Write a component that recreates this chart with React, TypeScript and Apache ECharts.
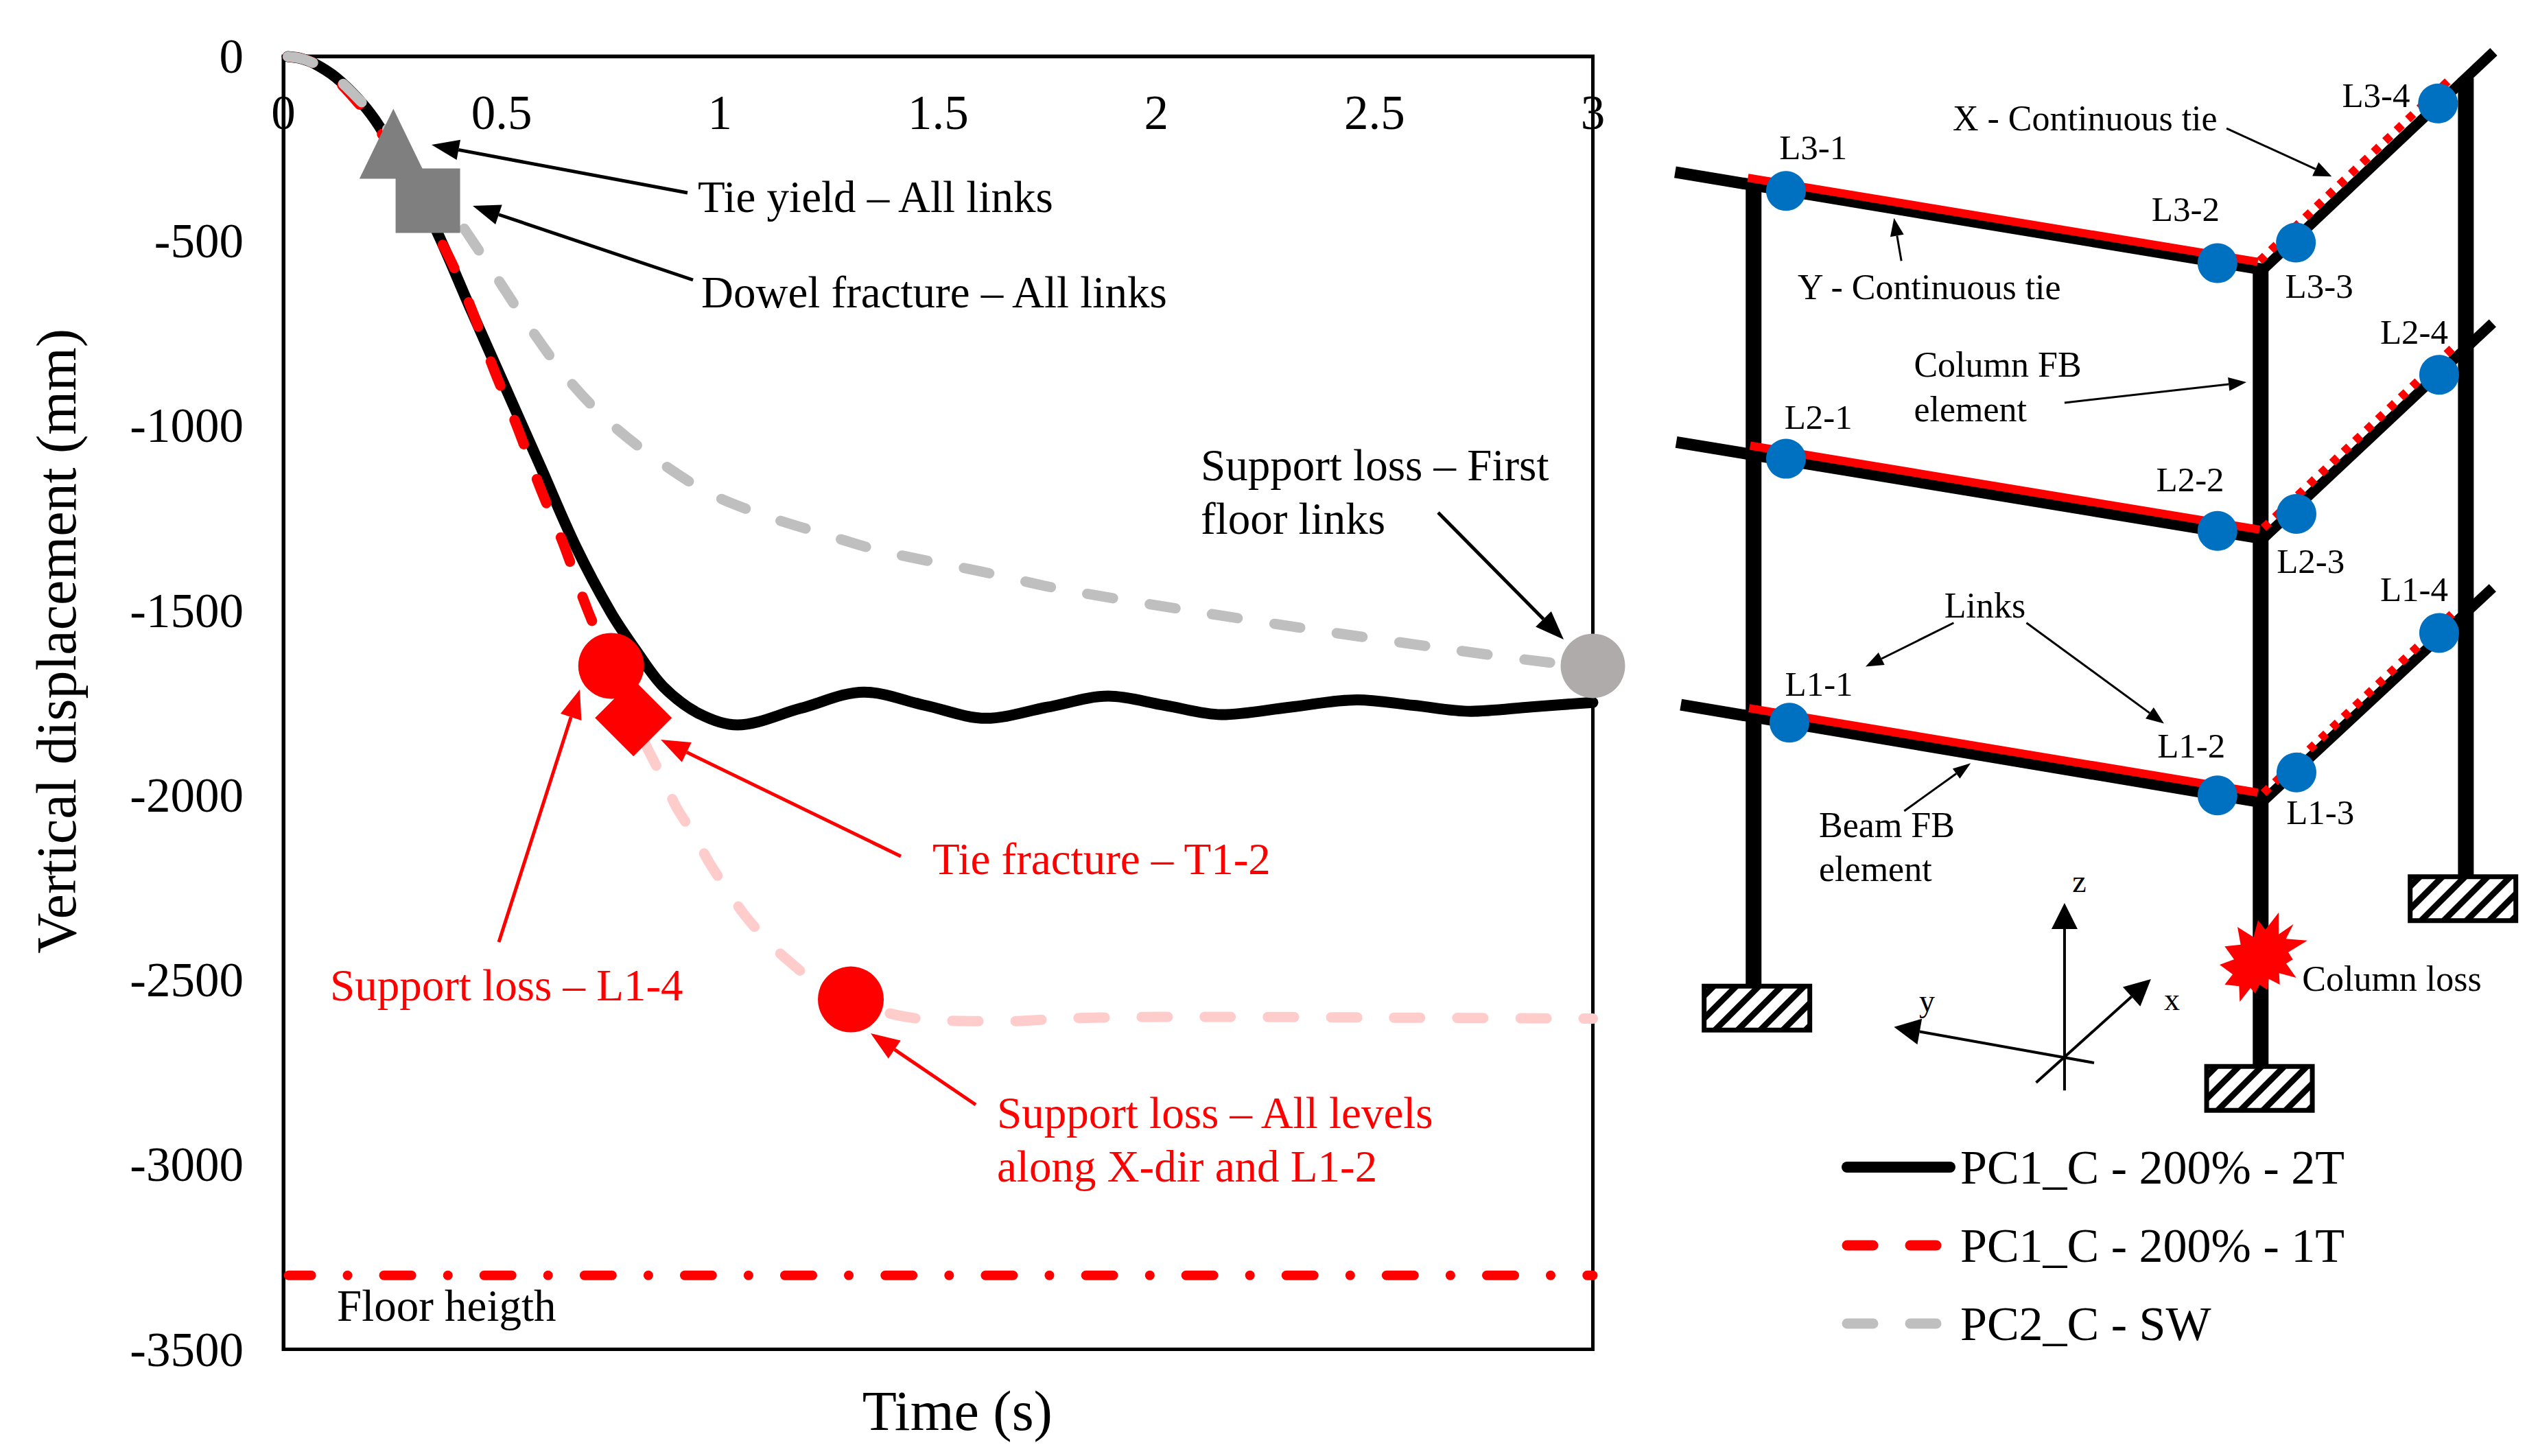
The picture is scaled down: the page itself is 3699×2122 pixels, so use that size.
import React, { useEffect, useRef } from "react";
import * as echarts from "echarts";

// ---- data ----
const xTickStep = 0.5;
const yTickStep = 500;

const blackName = "PC1_C - 200% - 2T";
const blackT = [0.01, 0.04, 0.07, 0.12, 0.18, 0.22, 0.28, 0.35, 0.43, 0.51, 0.59, 0.67, 0.75, 0.81, 0.87, 0.95, 1.04, 1.185, 1.33, 1.47, 1.61, 1.75, 1.89, 2.02, 2.15, 2.305, 2.46, 2.59, 2.72, 2.86, 3];
const blackV = [-1, -6, -19, -57, -127, -190, -310, -470, -687, -900, -1113, -1327, -1505, -1612, -1706, -1778, -1810, -1765, -1721, -1757, -1792, -1762, -1732, -1757, -1782, -1762, -1742, -1757, -1773, -1761, -1749];

const redName = "PC1_C - 200% - 1T";
const redT = [0.01, 0.04, 0.07, 0.12, 0.165, 0.215, 0.28, 0.38, 0.43, 0.48, 0.535, 0.59, 0.64, 0.695, 0.751, 0.802];
const redV = [-1, -6, -19, -62, -118, -190, -325, -545, -681, -841, -1001, -1173, -1315, -1493, -1650, -1791];

const paleName = "PC1_C - 200% - 1T (after tie fracture)";
const paleT = [0.802, 0.834, 0.871, 0.901, 0.942, 0.975, 1.017, 1.056, 1.108, 1.155, 1.217, 1.3, 1.4, 1.51, 1.654, 1.8, 1.94, 2.09, 2.5, 3];
const paleV = [-1791, -1873, -1959, -2034, -2110, -2181, -2257, -2323, -2394, -2446, -2504, -2553, -2594, -2610, -2612, -2604, -2601, -2600, -2602, -2605];

const grayName = "PC2_C - SW";
const grayT = [0.01, 0.04, 0.07, 0.12, 0.18, 0.22, 0.28, 0.33, 0.405, 0.485, 0.565, 0.65, 0.745, 0.86, 0.98, 1.105, 1.235, 1.37, 1.6, 1.78, 2.09, 2.365, 2.64, 2.9, 3];
const grayV = [-1, -6, -19, -57, -125, -175, -250, -320, -450, -592, -735, -871, -989, -1096, -1185, -1244, -1292, -1339, -1395, -1442, -1503, -1553, -1600, -1641, -1650];

const floorName = "Floor heigth";
const floorT = [0.012, 3];
const floorV = [-3300, -3300];

const tieYieldPoint = [0.252, -237];
const dowelFracturePoint = [0.331, -391];
const supportL14Point = [0.751, -1650];
const tieFracturePoint = [0.802, -1791];
const supportAllPoint = [1.3, -2553];
const supportFirstPoint = [3, -1650];

const zip = (a: number[], b: number[]) => a.map((v, i) => [v, b[i]]);

// ---- drawing helpers for annotations and the frame sketch ----
const FONT = "Liberation Serif";
const X2 = (z: number) => 2400 + z / 1.207;
const Y2 = (z: number) => 50 + z / 1.568;
const Y3 = (z: number) => 1050 + z / 1.493;

const seg = (x1: number, y1: number, x2: number, y2: number, stroke: string, lineWidth: number, extra: any = {}) => ({
  type: "line",
  silent: true,
  shape: { x1, y1, x2, y2 },
  style: { stroke, lineWidth, ...extra },
});

const arrow = (x1: number, y1: number, x2: number, y2: number, color: string, lw: number, hl: number, hw: number) => {
  const d = Math.hypot(x2 - x1, y2 - y1);
  const ux = (x2 - x1) / d;
  const uy = (y2 - y1) / d;
  const bx = x2 - ux * hl;
  const by = y2 - uy * hl;
  return [
    seg(x1, y1, bx, by, color, lw),
    {
      type: "polygon",
      silent: true,
      shape: { points: [[x2, y2], [bx - uy * hw / 2, by + ux * hw / 2], [bx + uy * hw / 2, by - ux * hw / 2]] },
      style: { fill: color },
    },
  ];
};

const label = (text: string, x: number, y: number, fontSize: number, fill = "#000", align = "left") => ({
  type: "text",
  silent: true,
  x,
  y,
  style: { text, fontFamily: FONT, fontSize, fill, align, verticalAlign: "middle", textAlign: align, textVerticalAlign: "middle" },
});

const hatchBox = (x: number, y: number, w: number, h: number) => {
  const out: any[] = [{ type: "rect", silent: true, shape: { x, y, width: w, height: h }, style: { fill: "#fff" } }];
  for (let d = 14; d < w + h; d += 33) {
    const sx = d <= h ? 0 : d - h;
    const sy = d <= h ? d : h;
    const ex = d <= w ? d : w;
    const ey = d <= w ? 0 : d - w;
    out.push(seg(x + sx, y + sy, x + ex, y + ey, "#000", 9));
  }
  out.push({ type: "rect", silent: true, shape: { x, y, width: w, height: h }, style: { fill: "none", stroke: "#000", lineWidth: 7 } });
  return out;
};

const starPts = [[363, 90], [363, 185], [428, 140], [395, 205], [489, 212], [405, 263], [425, 295], [396, 313], [440, 375], [365, 355], [368, 405], [320, 380], [313, 428], [280, 405], [260, 443], [240, 420], [193, 480], [190, 412], [127, 405], [162, 360], [105, 318], [168, 295], [127, 238], [197, 230], [183, 153], [253, 197], [273, 123], [305, 165]];

const buildGraphics = () => {
  const g: any[] = [];
  // left plot annotations
  g.push(...arrow(1002, 281, 629, 211, "#000", 5, 40, 30));
  g.push(...arrow(1010, 408, 689, 300, "#000", 5, 40, 30));
  g.push(...arrow(2096, 747, 2279, 932, "#000", 5, 42, 32));
  g.push(...arrow(727, 1373, 845, 1005, "#f00", 5, 42, 32));
  g.push(...arrow(1313, 1248, 963, 1078, "#f00", 5, 42, 32));
  g.push(...arrow(1422, 1610, 1269, 1506, "#f00", 5, 42, 32));

  g.push(label("Tie yield – All links", 1017, 287, 65));
  g.push(label("Dowel fracture – All links", 1022, 426, 65));
  g.push(label("Support loss – First", 1750, 678, 65));
  g.push(label("floor links", 1750, 756, 65));
  g.push(label("Tie fracture – T1-2", 1359, 1252, 65, "#f00"));
  g.push(label("Support loss – L1-4", 481, 1436, 65, "#f00"));
  g.push(label("Support loss – All levels", 1453, 1622, 65, "#f00"));
  g.push(label("along X-dir and L1-2", 1453, 1700, 65, "#f00"));
  g.push(label("Floor heigth", 491, 1903, 65));

  // frame sketch: columns
  g.push(seg(X2(188), Y2(340), X2(188), Y3(575), "#000", 23));
  g.push(seg(X2(1080), Y2(535), X2(1080), Y3(750), "#000", 23));
  g.push(seg(X2(1441), Y2(100), X2(1441), Y3(337), "#000", 23));
  // beams Y
  g.push(seg(X2(50), Y2(315), X2(1082), Y2(537), "#000", 17));
  g.push(seg(X2(52), Y2(932), X2(1082), Y2(1152), "#000", 17));
  g.push(seg(X2(60), Y2(1532), X2(1082), Y3(178), "#000", 17));
  // beams X
  g.push(seg(X2(1078), Y2(545), X2(1490), Y2(40), "#000", 15));
  g.push(seg(X2(1078), Y2(1160), X2(1488), Y2(660), "#000", 15));
  g.push(seg(X2(1078), Y3(183), X2(1488), Y2(1265), "#000", 15));
  // ties Y
  g.push(seg(X2(178), Y2(328), X2(1075), Y2(520), "#f00", 12));
  g.push(seg(X2(182), Y2(940), X2(1078), Y2(1132), "#f00", 12));
  g.push(seg(X2(180), Y2(1540), X2(1075), Y3(157), "#f00", 12));
  // ties X
  const tieDots = { lineDash: [11, 12] };
  g.push(seg(X2(1078), Y2(518), X2(1415), Y2(100), "#f00", 12, tieDots));
  g.push(seg(X2(1085), Y2(1128), X2(1425), Y2(708), "#f00", 12, tieDots));
  g.push(seg(X2(1085), Y3(158), X2(1422), Y2(1318), "#f00", 12, tieDots));
  // links
  const links: number[][] = [
    [X2(245), Y2(358)], [X2(1004), Y2(523)], [X2(1142), Y2(476)], [X2(1392), Y2(158)],
    [X2(245), Y2(970)], [X2(1004), Y2(1135)], [X2(1143), Y2(1096)], [X2(1394), Y2(778)],
    [X2(251), Y3(5)], [X2(1004), Y3(163)], [X2(1143), Y3(113)], [X2(1394), Y2(1368)],
  ];
  links.forEach(([cx, cy]) => g.push({ type: "circle", silent: true, shape: { cx, cy, r: 29 }, style: { fill: "#0070C0" } }));
  // supports
  g.push(...hatchBox(X2(101), Y3(578), 154, 64));
  g.push(...hatchBox(X2(985), Y3(753), 154, 64));
  g.push(...hatchBox(X2(1343), Y3(340), 154, 64));
  // column loss
  g.push({ type: "polygon", silent: true, shape: { points: starPts.map(([x, y]) => [3200 + x / 3, 1300 + y / 3]) }, style: { fill: "#f00" } });
  // sketch arrows
  g.push(...arrow(X2(1020), Y2(215), X2(1205), Y2(325), "#000", 3, 26, 22));
  g.push(...arrow(X2(448), Y2(518), X2(435), Y2(420), "#000", 3, 26, 20));
  g.push(...arrow(X2(735), Y2(842), X2(1055), Y2(795), "#000", 3, 26, 20));
  g.push(...arrow(X2(540), Y2(1345), X2(385), Y2(1445), "#000", 3, 26, 20));
  g.push(...arrow(X2(668), Y2(1345), X2(910), Y2(1575), "#000", 3, 26, 20));
  g.push(...arrow(X2(453), Y3(197), X2(570), Y3(93), "#000", 3, 26, 18));
  g.push(...arrow(X2(735), Y3(805), X2(735), Y3(397), "#000", 4, 38, 38));
  g.push(...arrow(X2(685), Y3(788), X2(887), Y3(563), "#000", 4, 38, 38));
  g.push(...arrow(X2(787), Y3(745), X2(435), Y3(667), "#000", 4, 38, 38));
  // sketch labels
  const linkLabels: [string, number, number][] = [
    ["L3-1", X2(293), Y2(258)], ["L3-2", X2(948), Y2(400)], ["L3-3", X2(1183), Y2(575)], ["L3-4", X2(1283), Y2(140)],
    ["L2-1", X2(302), Y2(875)], ["L2-2", X2(956), Y2(1018)], ["L2-3", X2(1168), Y2(1205)], ["L2-4", X2(1350), Y2(680)],
    ["L1-1", X2(303), Y2(1485)], ["L1-2", X2(958), Y3(55)], ["L1-3", X2(1185), Y3(200)], ["L1-4", X2(1350), Y2(1268)],
  ];
  linkLabels.forEach(([t, x, y]) => g.push(label(t, x, y, 51, "#000", "center")));
  g.push(label("X - Continuous tie", X2(771), Y2(192), 52, "#000", "center"));
  g.push(label("Y - Continuous tie", X2(497), Y2(578), 52, "#000", "center"));
  g.push(label("Column FB", X2(470), Y2(755), 52));
  g.push(label("element", X2(470), Y2(857), 52));
  g.push(label("Links", X2(595), Y2(1305), 52, "#000", "center"));
  g.push(label("Beam FB", X2(303), Y3(228), 52));
  g.push(label("element", X2(303), Y3(323), 52));
  g.push(label("Column loss", X2(1153), Y3(562), 52));
  g.push(label("z", X2(761), Y3(350), 46, "#000", "center"));
  g.push(label("x", X2(924), Y3(607), 46, "#000", "center"));
  g.push(label("y", X2(493), Y3(610), 46, "#000", "center"));
  return g;
};

const dashed = [38, 54];
const lineSeries = (name: string, t: number[], v: number[], color: string, type: any, z: number, width = 15, dashOffset = 0) => ({
  name,
  type: "line",
  data: zip(t, v),
  smooth: 0.33,
  symbol: "none",
  showSymbol: false,
  z,
  lineStyle: { color, width, type, dashOffset, cap: "round", join: "round" },
  itemStyle: { color },
});

const markerSeries = (name: string, point: number[], symbol: string, symbolSize: any, color: string) => ({
  name,
  type: "scatter",
  data: [point],
  symbol,
  symbolSize,
  clip: false,
  z: 6,
  itemStyle: { color, opacity: 1 },
});

export default function App() {
  const ref = useRef<HTMLDivElement>(null);
  useEffect(() => {
    const chart = echarts.init(ref.current!, undefined, { renderer: "svg" });
    chart.setOption({
      animation: false,
      backgroundColor: "#fff",
      graphic: { elements: buildGraphics() },
      legend: {
        orient: "vertical",
        left: 2679,
        top: 1661,
        itemWidth: 150,
        itemHeight: 70,
        itemGap: 44,
        selectedMode: false,
        data: [blackName, redName, grayName],
        itemStyle: { opacity: 0 },
        lineStyle: { width: "inherit", cap: "inherit", join: "inherit", type: "inherit" },
        textStyle: { fontFamily: FONT, fontSize: 70, color: "#000", padding: [0, 0, 0, 10], lineHeight: 70 },
      },
      grid: { left: 413, top: 82, width: 1908.5, height: 1884.5, show: true, borderColor: "#000", borderWidth: 5, backgroundColor: "transparent", outerBoundsMode: "none", containLabel: false },
      xAxis: {
        type: "value",
        position: "top",
        min: 0,
        max: 3,
        interval: xTickStep,
        name: "Time (s)",
        nameLocation: "middle",
        nameGap: -2015,
        nameTextStyle: { fontFamily: FONT, fontSize: 82, color: "#000", padding: [0, 0, 0, 56] },
        axisLine: { show: true, lineStyle: { color: "#000", width: 5 } },
        axisTick: { show: false },
        splitLine: { show: false },
        axisLabel: { inside: true, margin: 46, fontFamily: FONT, fontSize: 71, color: "#000", hideOverlap: false, showMinLabel: true, showMaxLabel: true },
      },
      yAxis: {
        type: "value",
        min: -3500,
        max: 0,
        interval: yTickStep,
        name: "Vertical displacement (mm)",
        nameLocation: "middle",
        nameRotate: 90,
        nameGap: 290,
        nameTextStyle: { fontFamily: FONT, fontSize: 82, color: "#000", padding: [0, 0, 0, 180] },
        axisLine: { show: true, onZero: false, lineStyle: { color: "#000", width: 5 } },
        axisTick: { show: false },
        splitLine: { show: false },
        axisLabel: { margin: 58, fontFamily: FONT, fontSize: 71, color: "#000", showMinLabel: true, showMaxLabel: true, formatter: (v: number) => String(v) },
      },
      series: [
        lineSeries(blackName, blackT, blackV, "#000000", "solid", 2, 16),
        lineSeries(paleName, paleT, paleV, "#FFCCCC", dashed, 3, 15, 53),
        lineSeries(redName, redT, redV, "#FF0000", dashed, 3),
        lineSeries(grayName, grayT, grayV, "#BFBFBF", dashed, 4),
        lineSeries(floorName, floorT, floorV, "#FF0000", [40, 53, 0.1, 53], 4, 14, 7),
        markerSeries("Tie yield – All links", tieYieldPoint, "triangle", [99, 102], "#7F7F7F"),
        markerSeries("Dowel fracture – All links", dowelFracturePoint, "rect", 94, "#7F7F7F"),
        markerSeries("Support loss – L1-4", supportL14Point, "circle", 96, "#FF0000"),
        markerSeries("Tie fracture – T1-2", tieFracturePoint, "diamond", 112, "#FF0000"),
        markerSeries("Support loss – All levels along X-dir and L1-2", supportAllPoint, "circle", 96, "#FF0000"),
        markerSeries("Support loss – First floor links", supportFirstPoint, "circle", 94, "#AFABAB"),
      ],
    });
    return () => chart.dispose();
  }, []);
  return <div ref={ref} style={{ position: "fixed", left: 0, top: 0, width: 3699, height: 2122 }} />;
}
